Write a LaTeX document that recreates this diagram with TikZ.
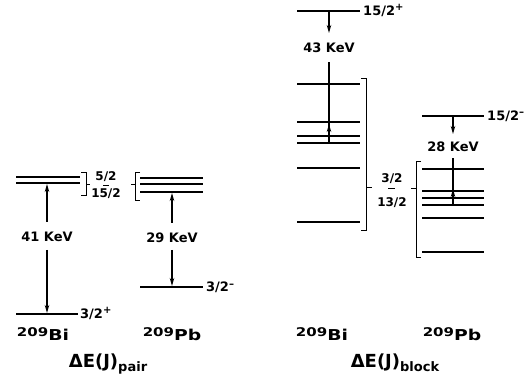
\documentclass[tikz,border=0pt]{standalone}
\usepackage{fontspec}
\setmainfont{DejaVu Sans}
\newfontfamily\widesans{DejaVu Sans}[FakeStretch=1.25]
\usetikzlibrary{arrows.meta,positioning}
\newcommand{\isot}[2]{\raisebox{4pt}{\fontsize{12}{12}\selectfont #1}#2}
\newcommand{\parity}[1]{\raisebox{5pt}{\fontsize{10}{10}\selectfont #1}}
\newcommand{\sublbl}[1]{\raisebox{-4pt}{\fontsize{13}{13}\selectfont #1}}

\begin{document}
\begin{tikzpicture}[x=1pt,y=-1pt,
  lvl/.style={line width=2pt},
  brk/.style={line width=1pt},
  lnk/.style={line width=1.3pt},
  arr/.style={line width=1.3pt,-{Stealth[length=8pt,width=4.5pt]}},
  lbl/.style={font=\fontsize{13}{14}\selectfont\bfseries,inner sep=0pt},
  spin/.style={lbl,anchor=base west},
  frac/.style={font=\fontsize{12}{13}\selectfont\bfseries,inner sep=0pt,anchor=base},
  nuc/.style={font=\widesans\fontsize{15}{16}\selectfont\bfseries,inner sep=0pt,anchor=base},
  sym/.style={font=\fontsize{18}{20}\selectfont\bfseries,inner sep=0pt,anchor=base}]

  \useasboundingbox (0,0) rectangle (531,377);

  % Delta E(J) pair
  \foreach \y in {177,183} \draw[lvl] (16,\y) -- (80,\y);
  \draw[lvl] (16,314) -- (78,314);
  \foreach \y in {178,184,192} \draw[lvl] (140,\y) -- (203,\y);
  \draw[lvl] (140,287) -- (203,287);

  \coordinate (bipup) at (47,184);
  \coordinate (bipdn) at (47,313);
  \coordinate (pbpup) at (172,193);
  \coordinate (pbpdn) at (172,286);

  \node[lbl] (kevbip) at (47,237) {41 KeV};
  \node[lbl] (kevpbp) at (172,238) {29 KeV};
  \draw[arr,shorten <=15pt] (kevbip.center) -- (bipup);
  \draw[arr,shorten <=13pt] (kevbip.center) -- (bipdn);
  \draw[arr,shorten <=15pt] (kevpbp.center) -- (pbpup);
  \draw[arr,shorten <=12pt] (kevpbp.center) -- (pbpdn);

  \draw[brk] (81,173) -- (86,173) -- (86,196) -- (81,196);
  \draw[brk] (86,185) -- (90,185);
  \draw[brk] (140,173) -- (135,173) -- (135,201) -- (140,201);
  \draw[brk] (135,185) -- (131,185);
  \node[frac] (jphi) at (106,181) {5/2};
  \node[frac] (jplo) at (106,198) {15/2};
  \draw[brk] (103,186) -- (109,186);

  \node[spin] (gbip) at (80,318.5) {3/2\parity{+}};
  \node[spin] (gpbp) at (206,292) {3/2\parity{--}};

  \node[nuc] (nbip) at (43,341) {\isot{209}{Bi}};
  \node[nuc] (npbp) at (172,341) {\isot{209}{Pb}};
  \node[sym] (dep) at (108,367) {ΔE(J)\sublbl{pair}};

  % Delta E(J) block
  \draw[lvl] (297,11) -- (360,11);
  \foreach \y in {84,122,136,143,168,222} \draw[lvl] (297,\y) -- (360,\y);
  \draw[lvl] (422,116) -- (484,116);
  \foreach \y in {169,191,198,205,218,252} \draw[lvl] (422,\y) -- (484,\y);

  \coordinate (bibtop) at (329,11);
  \coordinate (bibgrp) at (329,143);
  \coordinate (pbbtop) at (453,116);
  \coordinate (pbbgrp) at (453,205);

  \node[lbl] (kevbib) at (329,48) {43 KeV};
  \node[lbl] (kevpbb) at (453,147) {28 KeV};
  \draw[arr,shorten >=15pt] (bibtop) -- (kevbib.center);
  \draw[lnk,shorten >=14pt] (bibgrp) -- (kevbib.center);
  \draw[arr] (bibgrp) -- ++(0,-19);
  \draw[arr,shorten >=13pt] (pbbtop) -- (kevpbb.center);
  \draw[lnk,shorten >=11pt] (pbbgrp) -- (kevpbb.center);
  \draw[arr] (pbbgrp) -- ++(0,-16);

  \draw[brk] (361,79) -- (366,79) -- (366,231) -- (361,231);
  \draw[brk] (366,188) -- (372,188);
  \draw[brk] (421,162) -- (416,162) -- (416,258) -- (421,258);
  \draw[brk] (416,189) -- (411,189);
  \node[frac] (jbhi) at (392,183) {3/2};
  \node[frac] (jblo) at (392,207) {13/2};
  \draw[brk] (388,189) -- (395,189);

  \node[spin] (tbib) at (363,16) {15/2\parity{+}};
  \node[spin] (tpbb) at (487,121) {15/2\parity{--}};

  \node[nuc] (nbib) at (322,341) {\isot{209}{Bi}};
  \node[nuc] (npbb) at (452,341) {\isot{209}{Pb}};
  \node[sym] (deb) at (395,367) {ΔE(J)\sublbl{block}};
\end{tikzpicture}
\end{document}
